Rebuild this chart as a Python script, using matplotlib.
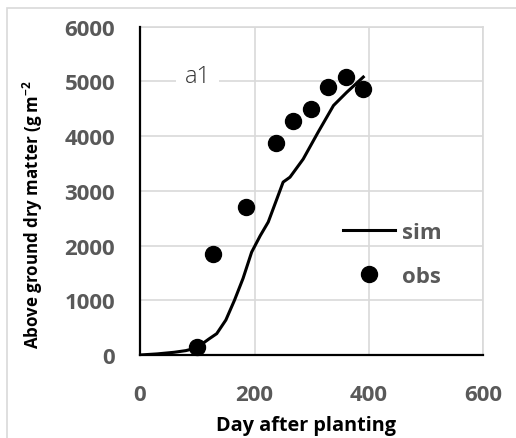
import matplotlib
matplotlib.use('Agg')
import matplotlib.pyplot as plt
from matplotlib.patches import Rectangle

plt.rcParams['font.family'] = ['Open Sans', 'DejaVu Sans']
plt.rcParams['font.weight'] = 'bold'
plt.rcParams['mathtext.default'] = 'regular'

# simulated curve
sim_day = [0, 30, 60, 80, 99, 120, 134, 150, 165, 180, 195, 210, 224, 239, 250, 262, 285, 311, 338, 361, 390]
sim_dm = [0, 20, 50, 80, 130, 290, 390, 640, 1000, 1400, 1880, 2180, 2430, 2850, 3160, 3250, 3580, 4070, 4560, 4800, 5080]

# observed points
obs_day = [99, 128, 186, 238, 267, 299, 329, 360, 390]
obs_dm = [150, 1850, 2700, 3880, 4270, 4500, 4900, 5080, 4870]

xticks = [0, 200, 400, 600]
yticks = [0, 1000, 2000, 3000, 4000, 5000, 6000]

grey = '#595959'
gridc = '#d9d9d9'

fig = plt.figure(figsize=(5.16, 4.39), dpi=100)
# outer chart frame
fig.patches.append(Rectangle((7/516, -0.1), 1.2, 1 - 9/439 + 0.1, transform=fig.transFigure,
                             fill=False, edgecolor=gridc, lw=1.2, clip_on=False))
ax = fig.add_axes([140/516, 1 - 356/439, 343.5/516, 328.3/439])

ax.plot(sim_day, sim_dm, color='black', lw=2.2, label='sim', zorder=3)
ax.plot(obs_day, obs_dm, 'o', color='black', ms=11.5, label='obs', zorder=4, clip_on=False)

ax.set_xlim(0, 600)
ax.set_ylim(0, 6000)
ax.set_xticks(xticks)
ax.set_yticks(yticks)
ax.set_xticklabels([str(v) for v in xticks], fontweight='bold')
ax.set_yticklabels([str(v) for v in yticks], fontweight='bold')
ax.grid(True, color=gridc, lw=1.2, zorder=0)
ax.set_axisbelow(True)
ax.tick_params(length=0, labelsize=16, labelcolor=grey)
ax.tick_params(axis='y', pad=18)
ax.tick_params(axis='x', pad=21)

for s in ['left', 'bottom']:
    ax.spines[s].set_color('black')
    ax.spines[s].set_linewidth(1.6)
    ax.spines[s].set_zorder(5)
for s in ['top', 'right']:
    ax.spines[s].set_color(gridc)
    ax.spines[s].set_linewidth(1.2)

ax.set_xlabel('Day after planting', fontsize=14.3, fontweight='bold', va='center')
ax.xaxis.set_label_coords(0.483, -0.213)
ax.set_ylabel('Above ground dry matter (g m$^{-2}$', fontsize=12.2, fontweight='bold', va='center')
ax.yaxis.set_label_coords(-0.311, 0.432)

ax.text(101, 5100, 'a1', fontsize=17, fontweight='light', color='#333333',
        ha='center', va='center',
        bbox=dict(facecolor='white', edgecolor='none', pad=6))

leg = ax.legend(loc='center left', bbox_to_anchor=(0.533, 0.306), frameon=False,
                handlelength=2.35, labelspacing=1.05, handletextpad=0.3,
                prop={'weight': 'bold', 'size': 16})
for t in leg.get_texts():
    t.set_color(grey)

fig.savefig('out.png', dpi=100)
